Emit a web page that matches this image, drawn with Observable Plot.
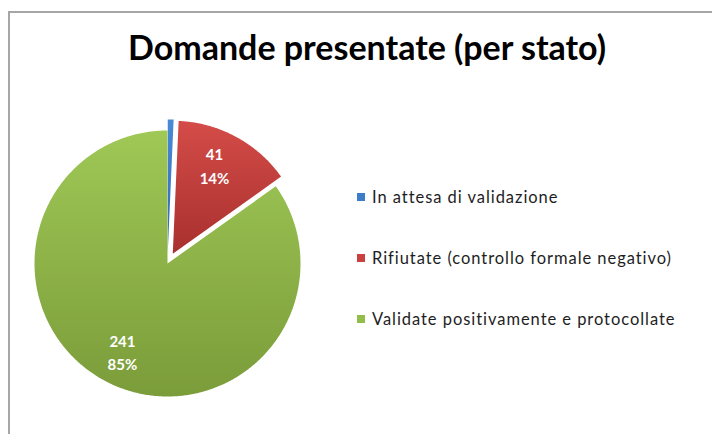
<!DOCTYPE html>
<html>
<head>
<meta charset="utf-8">
<script src="https://cdn.jsdelivr.net/npm/d3@7"></script>
<script src="https://cdn.jsdelivr.net/npm/@observablehq/plot@0.6"></script>
<style>
  html, body { margin: 0; padding: 0; background: #fff; }
  #wrap { position: relative; width: 712px; height: 434px; overflow: hidden; font-family: Lato, "Open Sans", sans-serif; }
  #frame { position: absolute; left: 8px; top: 11px; width: 720px; height: 440px; border-top: 2px solid #a6a6a6; border-left: 2px solid #a6a6a6; box-sizing: border-box; }
  #title { position: absolute; left: 0; width: 734px; top: 26px; text-align: center; font-size: 34px; font-weight: bold; color: #000; white-space: nowrap; }
  #chart { position: absolute; left: 0; top: 0; }
  #legend { position: absolute; left: 357px; top: 0; font-size: 16.5px; letter-spacing: 0.95px; color: #1e1e1e; }
  .item { position: absolute; left: 0; white-space: nowrap; display: flex; align-items: center; }
  .sw { width: 8px; height: 8px; margin-right: 7px; }
</style>
</head>
<body>
<svg width="0" height="0" style="position:absolute">
  <defs>
    <linearGradient id="gBlue" x1="0" y1="0" x2="0" y2="1">
      <stop offset="0" stop-color="#4a8ad6"/><stop offset="1" stop-color="#2f69b0"/>
    </linearGradient>
    <linearGradient id="gRed" x1="0" y1="0" x2="0" y2="1">
      <stop offset="0" stop-color="#d44c48"/><stop offset="1" stop-color="#a8302e"/>
    </linearGradient>
    <linearGradient id="gGreen" x1="0" y1="0" x2="0" y2="1">
      <stop offset="0" stop-color="#9fc856"/><stop offset="1" stop-color="#7b9c3a"/>
    </linearGradient>
  </defs>
</svg>
<div id="wrap">
  <div id="frame"></div>
  <div id="title">Domande presentate (per stato)</div>
  <div id="chart"></div>
  <div id="legend"></div>
</div>
<script>
// ---- data ----
const categories = [
  "In attesa di validazione",
  "Rifiutate (controllo formale negativo)",
  "Validate positivamente e protocollate"
];
const values = [2, 41, 241];
const fills = ["url(#gBlue)", "url(#gRed)", "url(#gGreen)"];
const swatchColors = ["#3d7cc9", "#c9413f", "#92bd48"];
const exploded = [true, true, false];
const showLabel = [false, true, true];

// ---- geometry derived from data ----
const total = d3.sum(values);
const arcs = d3.pie().sort(null).startAngle(0).endAngle(2 * Math.PI)(values);
const explode = 0.083;
const polys = [];
const labels = [];
arcs.forEach((a, i) => {
  const mid = (a.startAngle + a.endAngle) / 2;
  const ox = exploded[i] ? explode * Math.sin(mid) : 0;
  const oy = exploded[i] ? explode * Math.cos(mid) : 0;
  polys.push({cat: categories[i], x: ox, y: oy, i});
  const steps = Math.max(2, Math.ceil((a.endAngle - a.startAngle) / 0.01));
  for (let k = 0; k <= steps; k++) {
    const t = a.startAngle + (a.endAngle - a.startAngle) * k / steps;
    polys.push({cat: categories[i], x: ox + Math.sin(t), y: oy + Math.cos(t), i});
  }
  polys.push({cat: categories[i], x: ox, y: oy, i});
  if (showLabel[i]) {
    const r = 0.74;
    const la = i === 1 ? mid - 0.06 : mid;
    labels.push({
      x: ox + r * Math.sin(la),
      y: oy + r * Math.cos(la),
      text: values[i] + "\n" + Math.round(values[i] / total * 100) + "%"
    });
  }
});

const marks = categories.map((c, i) =>
  Plot.line(polys.filter(d => d.i === i), {x: "x", y: "y", fill: fills[i], stroke: "none", curve: "linear"})
);
marks.push(Plot.text(labels, {
  x: "x", y: "y", text: "text", fill: "white", fontSize: 15, fontWeight: "bold",
  lineHeight: 1.55, textAnchor: "middle", fontFamily: "Lato, sans-serif"
}));

const chart = Plot.plot({
  width: 712, height: 434,
  margin: 0,
  x: {domain: [-1, 1], range: [34, 300], axis: null},
  y: {domain: [-1, 1], range: [396, 130], axis: null},
  marks
});
document.getElementById("chart").appendChild(chart);

// legend
const legendY = [197, 258, 319];
const legend = document.getElementById("legend");
categories.forEach((c, i) => {
  const it = document.createElement("div");
  it.className = "item";
  it.style.top = (legendY[i] - 11) + "px";
  it.style.height = "22px";
  const sw = document.createElement("div");
  sw.className = "sw";
  sw.style.background = swatchColors[i];
  const tx = document.createElement("span");
  tx.textContent = c;
  it.appendChild(sw); it.appendChild(tx);
  legend.appendChild(it);
});
</script>
</body>
</html>
